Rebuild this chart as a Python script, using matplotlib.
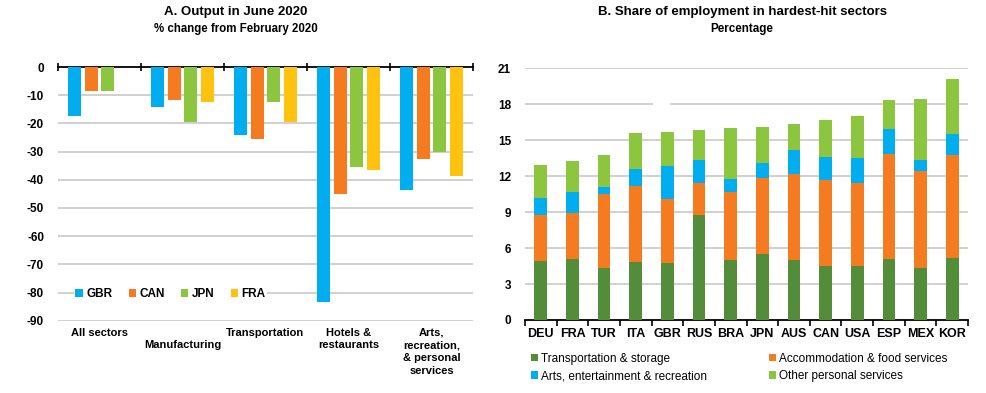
import numpy as np
import matplotlib
matplotlib.use("Agg")
import matplotlib.pyplot as plt

plt.rcParams['font.family'] = ['Liberation Sans', 'DejaVu Sans']

# Panel A data
sectors = ["All sectors", "\nManufacturing", "Transportation", "Hotels &\nrestaurants",
           "Arts,\nrecreation,\n& personal\nservices"]
countries_a = ["GBR", "CAN", "JPN", "FRA"]
gbr = [-17.3, -14.1, -24.1, -83.2, -43.6]
can = [-8.4, -11.6, -25.4, -45.1, -32.6]
jpn = [-8.4, -19.6, -12.5, -35.5, -30.0]
fra = [np.nan, -12.3, -19.5, -36.5, -38.7]
colors_a = ["#00AEEF", "#F47B20", "#8CC63F", "#FFC20E"]

# Panel B data (shares, percent)
countries_b = ["DEU", "FRA", "TUR", "ITA", "GBR", "RUS", "BRA", "JPN", "AUS", "CAN",
               "USA", "ESP", "MEX", "KOR"]
transport = [4.95, 5.12, 4.37, 4.84, 4.76, 8.76, 5.03, 5.53, 5.03, 4.50, 4.50, 5.09, 4.37, 5.18]
accommodation = [3.79, 3.78, 6.13, 6.37, 5.31, 2.67, 5.67, 6.35, 7.16, 7.16, 6.93, 8.77, 8.09, 8.59]
arts = [1.42, 1.78, 0.63, 1.37, 2.76, 1.95, 1.07, 1.25, 2.03, 1.97, 2.12, 2.08, 0.87, 1.78]
other = [2.81, 2.57, 2.67, 3.06, 2.86, 2.48, 4.26, 3.01, 2.14, 3.06, 3.48, 2.45, 5.14, 4.59]
labels_b = ["Transportation & storage", "Accommodation & food services",
            "Arts, entertainment & recreation", "Other personal services"]
colors_b = ["#538D3A", "#F47B20", "#00AEEF", "#8CC63F"]

fig = plt.figure(figsize=(9.86, 3.93), dpi=100)
grid_col = "#C8C8C8"

# ---- Panel A ----
ax1 = fig.add_axes([58 / 986, 1 - 320.7 / 393, 415 / 986, (320.7 - 67) / 393])
x = np.arange(len(sectors))
for k, (vals, name) in enumerate(zip([gbr, can, jpn, fra], countries_a)):
    ax1.bar(x - 0.5 + 0.2 * (k + 1), vals, width=0.16, color=colors_a[k], label=name, zorder=3)
ax1.set_xlim(-0.5, len(sectors) - 0.5)
ax1.set_ylim(-90, 0)
ax1.set_yticks(np.arange(-90, 1, 10))
ax1.set_yticklabels([str(v) for v in range(-90, 1, 10)], fontsize=8.5, fontweight='bold')
for v in range(-90, 0, 10):
    ax1.axhline(v, color=grid_col, lw=1.2, zorder=1)
for s in ["left", "right", "bottom"]:
    ax1.spines[s].set_visible(False)
ax1.spines["top"].set_linewidth(1.3)
ax1.tick_params(axis='y', length=0, pad=10)
ax1.set_xticks(x)
ax1.set_xticklabels(sectors, fontsize=8, fontweight='bold', va='top', linespacing=1.35)
ax1.tick_params(axis='x', which='major', length=0, pad=5)
ax1.set_xticks(np.arange(-0.5, len(sectors), 1), minor=True)
ax1.tick_params(axis='x', which='minor', top=True, bottom=False, direction='inout', length=6, width=1.2)
leg1 = ax1.legend(loc='center left', bbox_to_anchor=(0.025, 0.105), ncol=4, frameon=True,
                  fontsize=8.5, handlelength=0.6, handleheight=0.6, handletextpad=0.3,
                  columnspacing=1.4, borderpad=0.1, edgecolor='none', facecolor='white', framealpha=1)
for t in leg1.get_texts():
    t.set_fontweight('bold')
fig.text(236 / 986, 1 - 12 / 393, "A. Output in June 2020", ha='center', va='center',
         fontsize=9.5, fontweight='bold')
fig.text(236 / 986, 1 - 29 / 393, "% change from February 2020", ha='center', va='center',
         fontsize=8.3, fontweight='bold')

# ---- Panel B ----
ax2 = fig.add_axes([525 / 986, 1 - 320 / 393, 443 / 986, (320 - 68.3) / 393])
xb = np.arange(len(countries_b))
bottom = np.zeros(len(countries_b))
handles = []
for vals, lab, col in zip([transport, accommodation, arts, other], labels_b, colors_b):
    h = ax2.bar(xb, vals, bottom=bottom, width=0.4, color=col, label=lab, zorder=3)
    handles.append(h)
    bottom = bottom + np.array(vals)
ax2.set_xlim(-0.5, len(countries_b) - 0.5)
ax2.set_ylim(0, 21)
ax2.set_yticks(np.arange(0, 22, 3))
ax2.set_yticklabels([str(v) for v in range(0, 22, 3)], fontsize=8.5, fontweight='bold')
for v in range(3, 22, 3):
    if v == 18:
        ax2.hlines(v, -0.5, 3.55, color=grid_col, lw=1.2, zorder=1)
        ax2.hlines(v, 4.08, len(countries_b) - 0.5, color=grid_col, lw=1.2, zorder=1)
    else:
        ax2.axhline(v, color=grid_col, lw=1.2, zorder=1)
for s in ["left", "right", "top"]:
    ax2.spines[s].set_visible(False)
ax2.spines["bottom"].set_linewidth(1.3)
ax2.tick_params(axis='y', length=0, pad=10)
ax2.set_xticks(xb)
ax2.set_xticklabels(countries_b, fontsize=9, fontweight='bold')
ax2.tick_params(axis='x', which='major', length=0, pad=6)
ax2.set_xticks(np.arange(-0.5, len(countries_b), 1), minor=True)
ax2.tick_params(axis='x', which='minor', direction='out', length=4, width=1.2)
order = [0, 2, 1, 3]
ax2.legend([handles[i] for i in order], [labels_b[i] for i in order],
           loc='upper left', bbox_to_anchor=(-0.011, -0.088), ncol=2, frameon=False,
           fontsize=8.5, handlelength=0.6, handleheight=0.6, handletextpad=0.3,
           columnspacing=5.2, labelspacing=0.45)
fig.text(742 / 986, 1 - 12 / 393, "B. Share of employment in hardest-hit sectors",
         ha='center', va='center', fontsize=9.5, fontweight='bold')
fig.text(742 / 986, 1 - 29 / 393, "Percentage", ha='center', va='center',
         fontsize=8.4, fontweight='bold')

fig.savefig("out.png", dpi=100)
